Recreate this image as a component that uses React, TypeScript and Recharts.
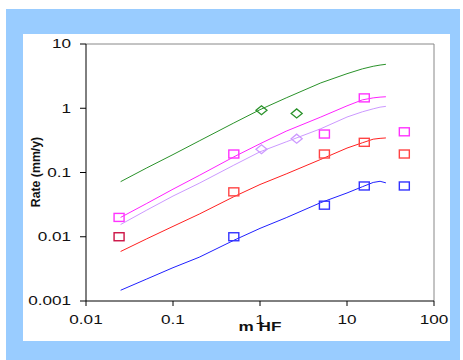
import React from "react";
import {
  ComposedChart,
  Line,
  Scatter,
  XAxis,
  YAxis,
  ReferenceLine,
} from "recharts";

// model curves, all sampled on the same m HF grid
const mHF = [0.025, 0.05, 0.1, 0.2, 0.5, 1, 2, 5, 10, 15, 20, 24, 28];
const greenCurve = [0.072, 0.118, 0.19, 0.31, 0.59, 0.95, 1.45, 2.48, 3.45, 4.1, 4.5, 4.7, 4.83];
const magentaCurve = [0.02, 0.033, 0.055, 0.09, 0.175, 0.28, 0.44, 0.73, 1.09, 1.35, 1.45, 1.49, 1.51];
const lilacCurve = [0.0155, 0.026, 0.043, 0.068, 0.13, 0.21, 0.3, 0.48, 0.73, 0.88, 0.98, 1.04, 1.07];
const redCurve = [0.0059, 0.0093, 0.0145, 0.0225, 0.042, 0.065, 0.095, 0.16, 0.24, 0.29, 0.33, 0.34, 0.345];
const blueCurve = [0.00147, 0.0022, 0.0033, 0.0048, 0.0088, 0.0135, 0.0198, 0.034, 0.048, 0.06, 0.07, 0.073, 0.069];

// measured points
const greenPtsX = [1.04, 2.64];
const greenPtsY = [0.93, 0.83];
const lilacPtsX = [1.04, 2.64];
const lilacPtsY = [0.23, 0.336];
const magentaPtsX = [0.024, 0.5, 5.5, 15.8, 45.6];
const magentaPtsY = [0.02, 0.194, 0.397, 1.45, 0.43];
const redPtsX = [0.024, 0.5, 5.5, 15.8, 45.6];
const redPtsY = [0.01, 0.05, 0.194, 0.295, 0.194];
const bluePtsX = [0.5, 5.5, 15.8, 45.6];
const bluePtsY = [0.01, 0.031, 0.0617, 0.0617];

const xTicks = [0.01, 0.1, 1, 10, 100];
const yTicks = [0.001, 0.01, 0.1, 1, 10];

const toRows = (xs: number[], ys: number[]) => xs.map((x, i) => ({ x, y: ys[i] }));

const FONT = '"Liberation Sans", Arial, sans-serif';
const STRETCH = 1.37;

const YTick = ({ x, y, payload }: any) => (
  <text
    transform={`translate(${x},${y}) scale(${STRETCH},1)`}
    textAnchor="end"
    dy="0.35em"
    fontSize={12.5}
    fontFamily={FONT}
    fill="#111"
  >
    {String(payload.value)}
  </text>
);

const XTick = ({ x, y, payload }: any) => (
  <text
    transform={`translate(${x},${y}) scale(${STRETCH},1)`}
    textAnchor="middle"
    dy="0.71em"
    fontSize={12.5}
    fontFamily={FONT}
    fill="#111"
  >
    {String(payload.value)}
  </text>
);

const square = (color: string) => (p: any) => (
  <rect
    x={p.cx - 5}
    y={p.cy - 4}
    width={10}
    height={8}
    fill="none"
    stroke={p.payload.c || color}
    strokeWidth={1.4}
  />
);

const diamond = (color: string) => (p: any) => (
  <polygon
    points={`${p.cx - 5.5},${p.cy} ${p.cx},${p.cy - 4.5} ${p.cx + 5.5},${p.cy} ${p.cx},${p.cy + 4.5}`}
    fill="none"
    stroke={color}
    strokeWidth={1.3}
  />
);

export default function App() {
  const redPts = toRows(redPtsX, redPtsY).map((r, i) => (i === 0 ? { ...r, c: "#cc1144" } : r));

  return (
    <div style={{ position: "absolute", left: 0, top: 0, width: 463, height: 360, background: "#fff", overflow: "hidden" }}>
      <div style={{ position: "absolute", left: 6, top: 9, width: 454, height: 351, background: "#99ccff" }} />
      <div style={{ position: "absolute", left: 23, top: 34, width: 427, height: 307, background: "#fff" }}>
        <ComposedChart width={427} height={307} margin={{ top: 10, right: 16, bottom: 0, left: 0 }}>
          <XAxis
            dataKey="x"
            type="number"
            scale="log"
            domain={[0.01, 100]}
            ticks={xTicks}
            allowDataOverflow
            height={40}
            tickSize={5}
            tickMargin={9}
            tick={<XTick />}
            stroke="#000"
          />
          <YAxis
            dataKey="y"
            type="number"
            scale="log"
            domain={[0.001, 10]}
            ticks={yTicks}
            allowDataOverflow
            width={63}
            tickSize={6}
            tickMargin={9}
            tick={<YTick />}
            stroke="#000"
          />
          <ReferenceLine y={10} stroke="#888" />
          <ReferenceLine x={100} stroke="#888" />

          <Line data={toRows(mHF, greenCurve)} dataKey="y" stroke="#2a922a" strokeWidth={1} dot={false} isAnimationActive={false} />
          <Line data={toRows(mHF, magentaCurve)} dataKey="y" stroke="#ff22ff" strokeWidth={1} dot={false} isAnimationActive={false} />
          <Line data={toRows(mHF, lilacCurve)} dataKey="y" stroke="#cc99ff" strokeWidth={1} dot={false} isAnimationActive={false} />
          <Line data={toRows(mHF, redCurve)} dataKey="y" stroke="#ff2020" strokeWidth={1} dot={false} isAnimationActive={false} />
          <Line data={toRows(mHF, blueCurve)} dataKey="y" stroke="#2020ff" strokeWidth={1} dot={false} isAnimationActive={false} />

          <Scatter data={toRows(greenPtsX, greenPtsY)} dataKey="y" shape={diamond("#2a922a")} isAnimationActive={false} />
          <Scatter data={toRows(lilacPtsX, lilacPtsY)} dataKey="y" shape={diamond("#cc99ff")} isAnimationActive={false} />
          <Scatter data={toRows(magentaPtsX, magentaPtsY)} dataKey="y" shape={square("#ff33ff")} isAnimationActive={false} />
          <Scatter data={toRows(bluePtsX, bluePtsY)} dataKey="y" shape={square("#3333ff")} isAnimationActive={false} />
          <Scatter data={redPts} dataKey="y" shape={square("#ff4444")} isAnimationActive={false} />
        </ComposedChart>
      </div>
      <div
        style={{
          position: "absolute",
          left: 259.5,
          top: 320.5,
          transform: `translateX(-50%) scaleX(${STRETCH})`,
          fontFamily: FONT,
          fontSize: 12.5,
          lineHeight: 1,
          fontWeight: "bold",
          color: "#111",
          whiteSpace: "nowrap",
        }}
      >
        m HF
      </div>
      <div
        style={{
          position: "absolute",
          left: 36.3,
          top: 171.5,
          transform: "translate(-50%,-50%) rotate(-90deg)",
          fontFamily: FONT,
          fontSize: 12.3,
          lineHeight: 1,
          fontWeight: "bold",
          color: "#111",
          whiteSpace: "nowrap",
        }}
      >
        Rate (mm/y)
      </div>
    </div>
  );
}
